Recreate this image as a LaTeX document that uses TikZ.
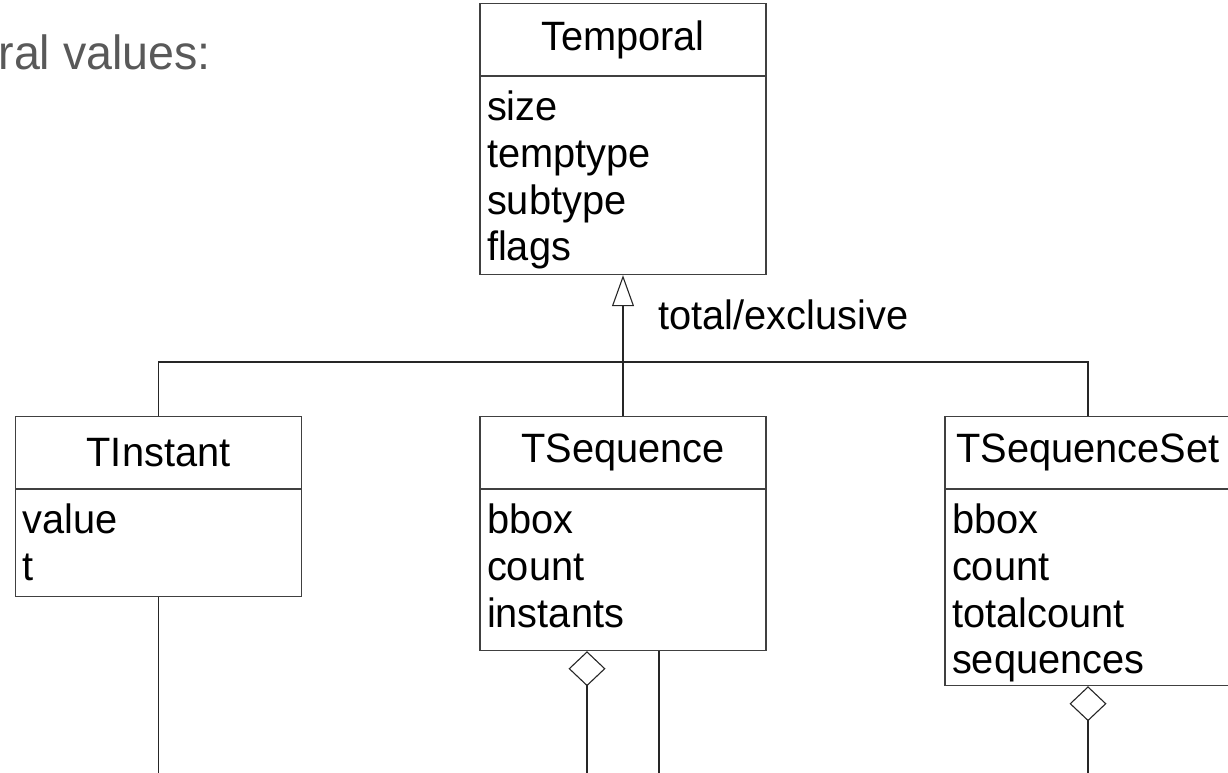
\documentclass[tikz,border=0pt]{standalone}
\usepackage{fontspec}
\setmainfont{Liberation Sans}[FakeStretch=0.97]
\usetikzlibrary{positioning,arrows.meta}
\newcommand{\attlist}[2]{\parbox[c][#1][t]{272pt}{\rule{0pt}{44pt}#2}}

\begin{document}
\begin{tikzpicture}[
		x=1pt, y=-1pt,
		every node/.style={font=\fontsize{41}{46.7}\selectfont},
		head/.style={draw=black!75, line width=1.1pt, minimum width=286pt, minimum height=72pt, inner sep=0pt, anchor=north},
		attr/.style={draw=black!75, line width=1.1pt, inner xsep=7pt, inner ysep=0pt, anchor=north},
		link/.style={draw=black!85, line width=1.1pt},
		gen/.style={-{Triangle[open, length=31pt, width=22pt]}},
		agg/.style={{Diamond[open, length=35pt, width=37pt]}-},
	]
	\useasboundingbox (0,0) rectangle (1228,773);
	\clip (0,0) rectangle (1228,773);
	\node[anchor=base west, text=black!65, font=\fontsize{48}{56}\selectfont] (intro) at (-5,70) {ral values:};
	\node[head] (temporal) at (623,3) {Temporal};
	\node[attr, below=0pt of temporal] (temporalatt) {\attlist{198pt}{size\\temptype\\subtype\\flags}};
	\node[head] (tinstant) at (158.5,416) {TInstant};
	\node[attr, below=0pt of tinstant] (tinstantatt) {\attlist{107pt}{value\\t}};
	\node[head] (tseq) at (623,416) {TSequence};
	\node[attr, below=0pt of tseq] (tseqatt) {\attlist{161pt}{bbox\\count\\instants}};
	\node[head] (tseqset) at (1088,416) {TSequenceSet};
	\node[attr, below=0pt of tseqset] (tseqsetatt) {\attlist{196pt}{bbox\\count\\totalcount\\sequences}};
	\coordinate (bar) at (623,362);
	\coordinate (end1) at (158.5,780);
	\coordinate (end2) at (587,780);
	\coordinate (end3) at (659,780);
	\coordinate (end4) at (1088,780);
	\draw[link, gen] (bar) -- node[pos=0.38, anchor=base west, xshift=35pt, inner sep=0pt] (genlabel) {total/exclusive} (temporalatt.south);
	\draw[link] (tinstant.north) |- (bar) -| (tseqset.north);
	\draw[link] (tseq.north) -- (bar);
	\draw[link] (tinstantatt.south) -- (end1);
	\draw[link, agg] (end2 |- tseqatt.south) -- (end2);
	\draw[link] (end3 |- tseqatt.south) -- (end3);
	\draw[link, agg] (tseqsetatt.south) -- (end4);
\end{tikzpicture}
\end{document}
